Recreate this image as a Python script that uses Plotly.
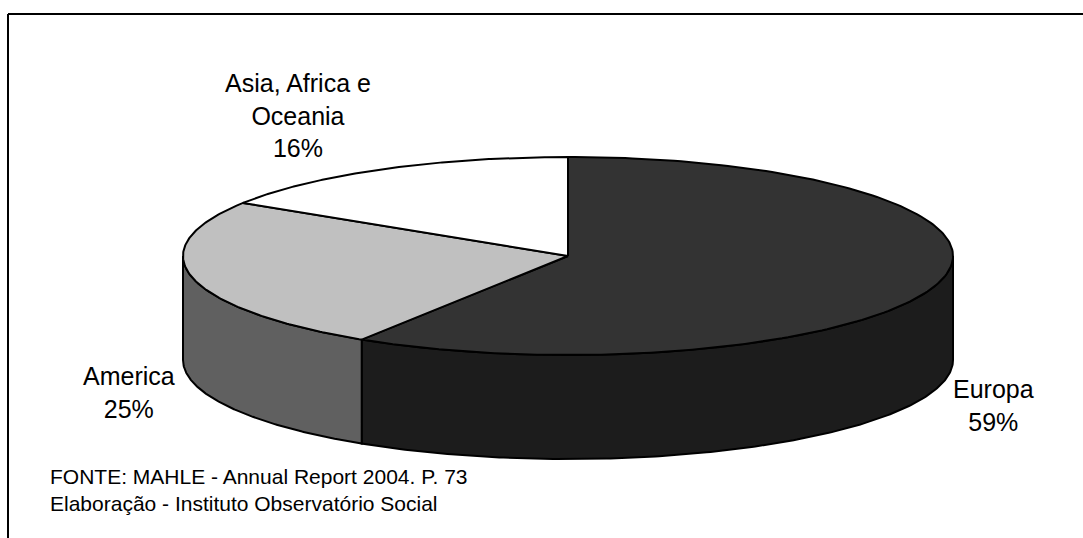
import numpy as np
import plotly.graph_objects as go

# ---- data ----
categories = ["Europa", "America", "Asia, Africa e Oceania"]
label_text = ["Europa<br>59%", "America<br>25%", "Asia, Africa e<br>Oceania<br>16%"]
values = [59, 25, 16]
top_colors = ["#333333", "#c0c0c0", "#ffffff"]
side_colors = ["#1c1c1c", "#606060", "#e6e6e6"]

# ---- geometry / style (pixel-like units) ----
W, H = 1083, 538
cx, cy = 568, 256      # centre of the top face
rx, ry = 385, 99       # semi-axes of the top ellipse
depth = 104            # thickness of the pie
outline = dict(color="black", width=2)


def arc(t1, t2, dy=0.0, n=200):
    ts = np.linspace(t1, t2, n)
    r = np.radians(ts)
    return list(cx + rx * np.sin(r)), list(cy - ry * np.cos(r) + dy)


total = sum(values)
starts, ends = [], []
acc = 0.0
for v in values:
    starts.append(acc / total * 360)
    acc += v
    ends.append(acc / total * 360)

fig = go.Figure()

# side walls (visible front half: 90..270 degrees clockwise from top)
for cat, s, e, col in zip(categories, starts, ends, side_colors):
    a, b = max(s, 90), min(e, 270)
    if b <= a:
        continue
    xt, yt = arc(a, b)
    xb, yb = arc(b, a, dy=depth)
    xs = xt + xb + [xt[0]]
    ys = yt + yb + [yt[0]]
    fig.add_trace(go.Scatter(x=xs, y=ys, mode="lines", fill="toself",
                             fillcolor=col, line=outline, hoverinfo="skip",
                             showlegend=False, name=cat))

# top faces
for cat, s, e, col in zip(categories, starts, ends, top_colors):
    xa, ya = arc(s, e)
    xs = [cx] + xa + [cx]
    ys = [cy] + ya + [cy]
    fig.add_trace(go.Scatter(x=xs, y=ys, mode="lines", fill="toself",
                             fillcolor=col, line=outline, hoverinfo="skip",
                             showlegend=False, name=cat))

# slice labels
label_pos = [(993, 405), (129, 392), (298, 115)]
for txt, (lx, ly) in zip(label_text, label_pos):
    fig.add_annotation(x=lx, y=ly, xref="x", yref="y", text=txt, showarrow=False,
                       font=dict(family="Liberation Sans, Arial", size=25, color="black"),
                       align="center", xanchor="center", yanchor="middle")

# source note
fig.add_annotation(x=48, y=490, xref="x", yref="y",
                   text="FONTE: MAHLE - Annual Report 2004. P. 73<br>Elaboração - Instituto Observatório Social",
                   showarrow=False, align="left", xanchor="left", yanchor="middle",
                   font=dict(family="Liberation Sans, Arial", size=21, color="black"))

# frame
fig.add_shape(type="line", x0=8, x1=W, y0=14, y1=14, xref="x", yref="y",
              line=dict(color="black", width=2))
fig.add_shape(type="line", x0=8, x1=8, y0=14, y1=H, xref="x", yref="y",
              line=dict(color="black", width=2))

fig.update_layout(
    width=W, height=H,
    margin=dict(l=0, r=0, t=0, b=0),
    paper_bgcolor="white", plot_bgcolor="white",
    xaxis=dict(range=[0, W], visible=False, fixedrange=True),
    yaxis=dict(range=[H, 0], visible=False, fixedrange=True),
    showlegend=False,
)

fig.write_html("out.html")
